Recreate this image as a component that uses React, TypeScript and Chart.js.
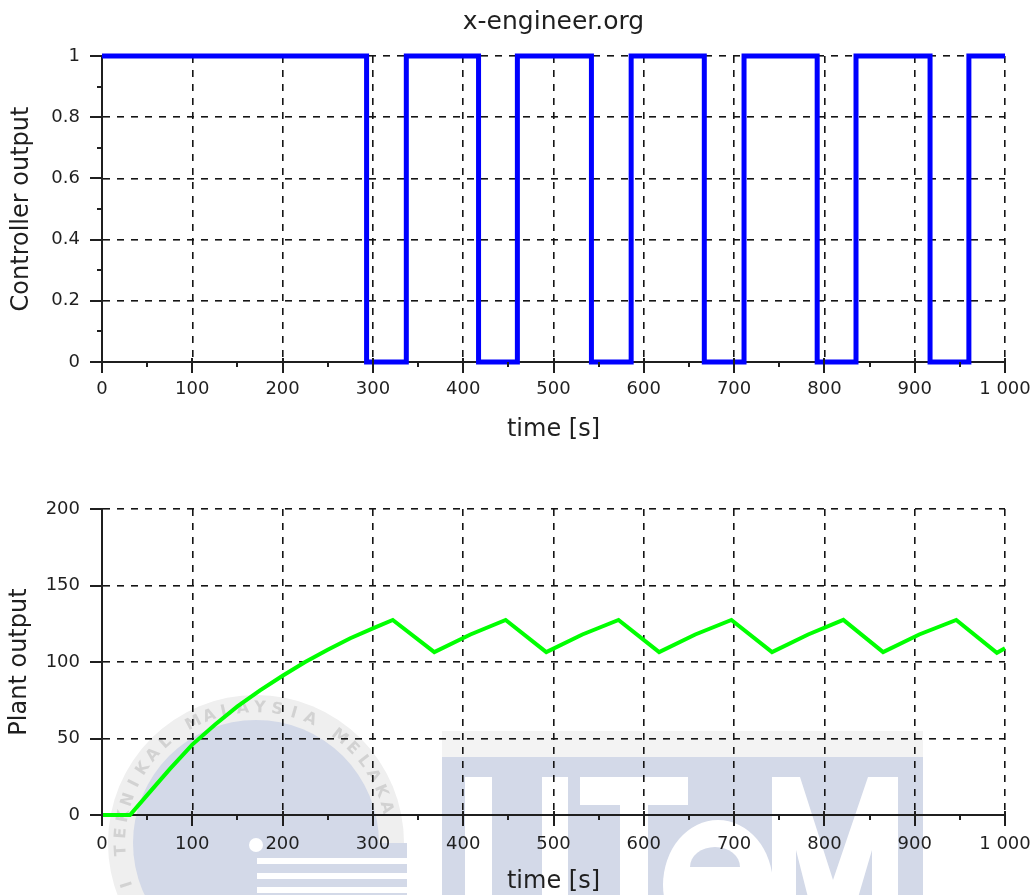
import React, { useEffect, useRef } from 'react';
import { Chart, registerables } from 'chart.js';

Chart.register(...registerables);

const FONT = '"DejaVu Sans", "Liberation Sans", sans-serif';
const TEXT = '#1f1f1f';
const AXIS = '#1f1f1f';
const GRID = '#151515';

// ---- text ----
const chartTitle = 'x-engineer.org';
const xAxisTitle = 'time [s]';
const topYTitle = 'Controller output';
const bottomYTitle = 'Plant output';
const watermarkRingText = 'UNIVERSITI TEKNIKAL MALAYSIA MELAKA';

// ---- tick labels ----
const timeTickLabels = ['0', '100', '200', '300', '400', '500', '600', '700', '800', '900', '1 000'];
const controllerTickLabels = ['0', '0.2', '0.4', '0.6', '0.8', '1'];
const plantTickLabels = ['0', '50', '100', '150', '200'];

// ---- controller output (on/off, step changes) ----
const controlTime = [0, 293, 337, 417, 460, 542, 586, 667, 711, 792, 835, 917, 960, 1000];
const controlValue = [1, 0, 1, 0, 1, 0, 1, 0, 1, 0, 1, 0, 1, 1];

// ---- plant output ----
const plantTime = [0, 31, 50, 75, 100, 125, 150, 175, 200, 225, 250, 275, 300, 322, 368, 408, 447, 492, 532, 572, 617, 657, 697, 742, 782, 821, 865, 905, 946, 991, 1000];
const plantValue = [0, 0, 13, 30, 46, 59, 71, 81.5, 91, 100, 108, 115.5, 122, 127.5, 106.5, 118, 127.5, 106.5, 118, 127.5, 106.5, 118, 127.5, 106.5, 118, 127.5, 106.5, 118, 127.5, 106, 109];

function makeAxisDecor(xMinorStep: number, yMinorStep: number | null) {
  return {
    id: 'axisDecor',
    afterDraw(chart: any) {
      const { ctx, chartArea } = chart;
      const { left, bottom } = chartArea;
      const xs = chart.scales.x;
      const ys = chart.scales.y;
      ctx.save();
      ctx.strokeStyle = AXIS;
      ctx.lineWidth = 2;
      ctx.setLineDash([]);
      ctx.beginPath();
      xs.ticks.forEach((t: any) => {
        const p = Math.round(xs.getPixelForValue(t.value));
        ctx.moveTo(p, bottom - 4);
        ctx.lineTo(p, bottom + 11);
      });
      for (let v = xs.min + xMinorStep; v < xs.max; v += 2 * xMinorStep) {
        const p = Math.round(xs.getPixelForValue(v));
        ctx.moveTo(p, bottom);
        ctx.lineTo(p, bottom + 5);
      }
      ys.ticks.forEach((t: any) => {
        const p = Math.round(ys.getPixelForValue(t.value));
        ctx.moveTo(left - 12, p);
        ctx.lineTo(left, p);
      });
      if (yMinorStep) {
        for (let v = ys.min + yMinorStep; v < ys.max; v += 2 * yMinorStep) {
          const p = Math.round(ys.getPixelForValue(v));
          ctx.moveTo(left - 5, p);
          ctx.lineTo(left, p);
        }
      }
      ctx.stroke();
      ctx.restore();
    },
  };
}

const titlePlugin = {
  id: 'topTitle',
  afterDraw(chart: any) {
    const { ctx, chartArea } = chart;
    ctx.save();
    ctx.font = `25px ${FONT}`;
    ctx.fillStyle = TEXT;
    ctx.textAlign = 'center';
    ctx.textBaseline = 'alphabetic';
    ctx.fillText(chartTitle, (chartArea.left + chartArea.right) / 2, 29);
    ctx.restore();
  },
};

// decorative background logo of the scanned page (not data)
const watermarkPlugin = {
  id: 'watermark',
  beforeDraw(chart: any) {
    const ctx = chart.ctx;
    const blue = '#d3d9e8';
    ctx.save();
    ctx.translate(0, -450);
    // ring
    ctx.fillStyle = '#efefef';
    ctx.beginPath();
    ctx.arc(256, 843, 148, 0, Math.PI * 2);
    ctx.fill();
    // ring text
    ctx.fillStyle = '#d2d2d2';
    ctx.font = `bold 16px ${FONT}`;
    ctx.textAlign = 'center';
    ctx.textBaseline = 'middle';
    const start = (-263.5 * Math.PI) / 180;
    const step = (7.3 * Math.PI) / 180;
    for (let i = 0; i < watermarkRingText.length; i++) {
      const a = start + i * step;
      ctx.save();
      ctx.translate(256 + 135 * Math.cos(a), 843 + 135 * Math.sin(a));
      ctx.rotate(a + Math.PI / 2);
      ctx.fillText(watermarkRingText[i], 0, 0);
      ctx.restore();
    }
    // disk
    ctx.fillStyle = blue;
    ctx.beginPath();
    ctx.arc(256, 843, 123, 0, Math.PI * 2);
    ctx.fill();
    // stripes block
    ctx.fillRect(257, 843, 150, 80);
    ctx.fillStyle = '#ffffff';
    [858, 873, 887].forEach((y) => ctx.fillRect(257, y, 150, 6));
    ctx.beginPath();
    ctx.arc(256, 845, 7, 0, Math.PI * 2);
    ctx.fill();
    // band + block
    ctx.fillStyle = '#f3f3f3';
    ctx.fillRect(442, 731, 481, 26);
    ctx.fillStyle = blue;
    ctx.fillRect(442, 757, 481, 170);
    // letters (white)
    ctx.fillStyle = '#ffffff';
    ctx.fillRect(465, 777, 27, 150);
    ctx.fillRect(542, 777, 26, 150);
    ctx.fillRect(580, 777, 108, 28);
    ctx.fillRect(620, 805, 28, 120);
    ctx.beginPath();
    ctx.ellipse(718, 885, 55, 65, 0, 0, Math.PI * 2);
    ctx.fill();
    ctx.beginPath();
    ctx.moveTo(772, 777);
    ctx.lineTo(800, 777);
    ctx.lineTo(833, 880);
    ctx.lineTo(868, 777);
    ctx.lineTo(898, 777);
    ctx.lineTo(898, 925);
    ctx.lineTo(872, 925);
    ctx.lineTo(872, 850);
    ctx.lineTo(850, 925);
    ctx.lineTo(815, 925);
    ctx.lineTo(796, 850);
    ctx.lineTo(796, 925);
    ctx.lineTo(772, 925);
    ctx.closePath();
    ctx.fill();
    ctx.fillStyle = blue;
    ctx.beginPath();
    ctx.ellipse(715, 867, 25, 20, 0, Math.PI, Math.PI * 2);
    ctx.closePath();
    ctx.fill();
    ctx.restore();
  },
};

function buildOptions(cfg: {
  padTop: number;
  xHeight: number;
  xLabelPad: number;
  xTitlePad: number;
  yTitlePad: number;
  yMax: number;
  yStep: number;
  yLabels: string[];
  yTitle: string;
}) {
  return {
    responsive: false,
    animation: false as const,
    events: [],
    layout: { padding: { top: cfg.padTop, right: 30, left: 0, bottom: 0 } },
    plugins: {
      legend: { display: false },
      tooltip: { enabled: false },
      title: { display: false },
    },
    scales: {
      x: {
        type: 'linear' as const,
        min: 0,
        max: 1000,
        afterFit: (s: any) => {
          s.height = cfg.xHeight;
          s.paddingLeft = 0;
          s.paddingRight = 0;
        },
        ticks: {
          stepSize: 100,
          autoSkip: false,
          maxRotation: 0,
          minRotation: 0,
          padding: cfg.xLabelPad,
          color: TEXT,
          font: { family: FONT, size: 18 },
          callback: (_v: any, i: number) => timeTickLabels[i],
        },
        grid: { color: GRID, lineWidth: 1.6, drawTicks: false },
        border: { display: true, color: AXIS, width: 2, dash: [7, 7] },
        title: {
          display: true,
          text: xAxisTitle,
          color: TEXT,
          font: { family: FONT, size: 24 },
          padding: { top: 0, bottom: cfg.xTitlePad },
        },
      },
      y: {
        type: 'linear' as const,
        min: 0,
        max: cfg.yMax,
        afterFit: (s: any) => {
          s.width = 102;
          s.paddingTop = 0;
          s.paddingBottom = 0;
        },
        ticks: {
          stepSize: cfg.yStep,
          autoSkip: false,
          padding: 22,
          color: TEXT,
          font: { family: FONT, size: 18 },
          callback: (_v: any, i: number) => cfg.yLabels[i],
        },
        grid: { color: GRID, lineWidth: 1.6, drawTicks: false },
        border: { display: true, color: AXIS, width: 2, dash: [7, 7] },
        title: {
          display: true,
          text: cfg.yTitle,
          color: TEXT,
          font: { family: FONT, size: 24 },
          padding: { top: cfg.yTitlePad, bottom: 0 },
        },
      },
    },
  };
}

export default function App() {
  const topRef = useRef<HTMLCanvasElement>(null);
  const botRef = useRef<HTMLCanvasElement>(null);

  useEffect(() => {
    const top = new Chart(topRef.current as HTMLCanvasElement, {
      type: 'line',
      data: {
        datasets: [
          {
            data: controlTime.map((t, i) => ({ x: t, y: controlValue[i] })),
            borderColor: '#0000ff',
            backgroundColor: '#0000ff',
            borderWidth: 5,
            stepped: 'before',
            pointRadius: 0,
            fill: false,
            clip: false,
          } as any,
        ],
      },
      options: buildOptions({
        padTop: 56,
        xHeight: 88,
        xLabelPad: 17,
        xTitlePad: 6,
        yTitlePad: 7,
        yMax: 1,
        yStep: 0.2,
        yLabels: controllerTickLabels,
        yTitle: topYTitle,
      }) as any,
      plugins: [makeAxisDecor(50, 0.1), titlePlugin],
    });

    const bottom = new Chart(botRef.current as HTMLCanvasElement, {
      type: 'line',
      data: {
        datasets: [
          {
            data: plantTime.map((t, i) => ({ x: t, y: plantValue[i] })),
            borderColor: '#00ff00',
            backgroundColor: '#00ff00',
            borderWidth: 4,
            tension: 0,
            pointRadius: 0,
            fill: false,
            clip: false,
          } as any,
        ],
      },
      options: buildOptions({
        padTop: 59,
        xHeight: 95,
        xLabelPad: 19,
        xTitlePad: 14,
        yTitlePad: 5,
        yMax: 200,
        yStep: 50,
        yLabels: plantTickLabels,
        yTitle: bottomYTitle,
      }) as any,
      plugins: [watermarkPlugin, makeAxisDecor(50, null)],
    });

    return () => {
      top.destroy();
      bottom.destroy();
    };
  }, []);

  return (
    <div
      style={{
        position: 'fixed',
        left: 0,
        top: 0,
        width: 1035,
        height: 895,
        overflow: 'hidden',
        background: '#ffffff',
      }}
    >
      <canvas
        ref={topRef}
        width={1035}
        height={450}
        style={{ position: 'absolute', left: 0, top: 0, width: 1035, height: 450 }}
      />
      <canvas
        ref={botRef}
        width={1035}
        height={460}
        style={{ position: 'absolute', left: 0, top: 450, width: 1035, height: 460 }}
      />
    </div>
  );
}
